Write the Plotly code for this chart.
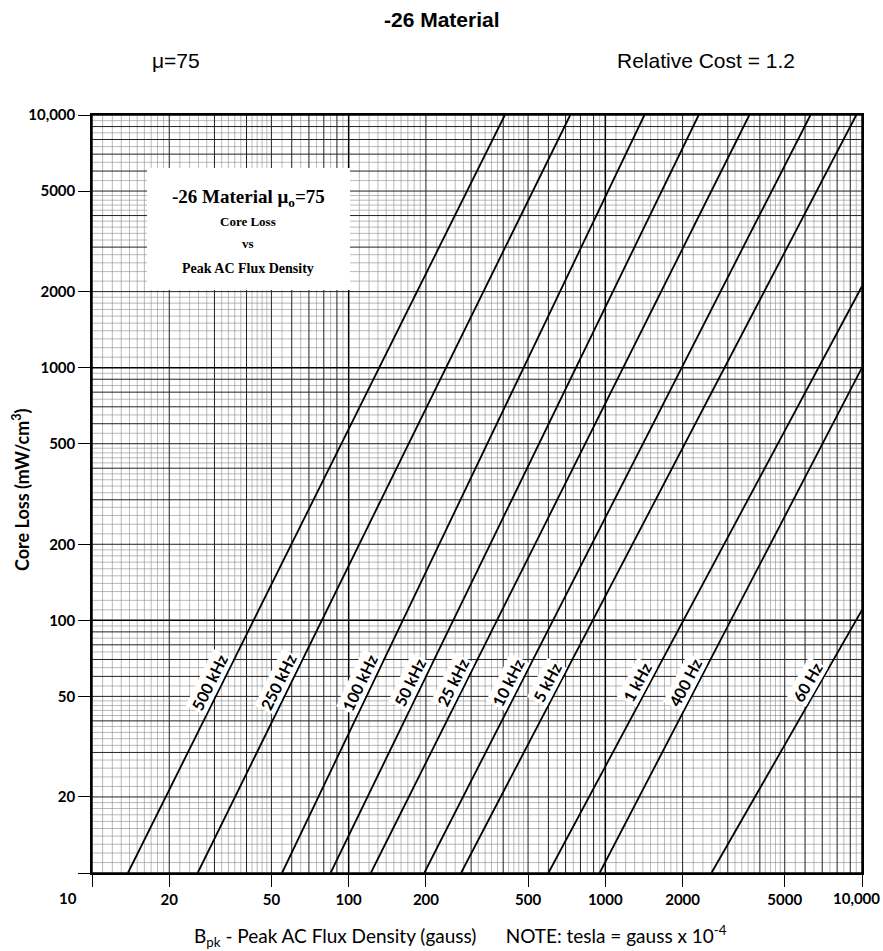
import numpy as np
import plotly.graph_objects as go

# ---------------- data ----------------
freq_labels = ["500 kHz", "250 kHz", "100 kHz", "50 kHz", "25 kHz",
               "10 kHz", "5 kHz", "1 kHz", "400 Hz", "60 Hz"]
# start point of every curve (flux density in gauss, core loss mW/cm^3)
b_start = [13.8, 25.8, 55, 85, 122, 197, 274, 600, 950, 2590]
p_start = [10, 10, 10, 10, 10, 10, 10, 10, 10, 10]
# end point of every curve
b_end = [406, 730, 1420, 2310, 3640, 6300, 9500, 10000, 10000, 10000]
p_end = [10000, 10000, 10000, 10000, 10000, 10000, 10000, 2100, 1000, 110]

x_tickvals = [20, 50, 100, 200, 500, 1000, 2000, 5000]
x_ticktext = ["20", "50", "100", "200", "500", "1000", "2000", "5000"]
y_tickvals = [20, 50, 100, 200, 500, 1000, 2000, 5000, 10000]
y_ticktext = ["20", "50", "100", "200", "500", "1000", "2000", "5000", "10,000"]
label_level = 57  # core loss level where the curve labels sit

# ---------------- layout geometry ----------------
FIG_W, FIG_H = 883, 951
ML, MR, MT, MB = 92, 21, 115, 78
PW = FIG_W - ML - MR
PH = FIG_H - MT - MB


def pp(px, py):
    return (px - ML) / PW, (FIG_H - MB - py) / PH


fig = go.Figure()

# ---------------- log graph-paper grid ----------------
decades = [10, 100, 1000]
int_mant = [2, 3, 4, 5, 6, 7, 8, 9]
fine_mant = [1.1, 1.2, 1.3, 1.4, 1.5, 1.6, 1.7, 1.8, 1.9,
             2.2, 2.4, 2.6, 2.8, 3.2, 3.4, 3.6, 3.8, 4.2, 4.4, 4.6, 4.8,
             5.5, 6.5, 7.5, 8.5, 9.5]


def grid_traces(values, color, width):
    xs, ys = [], []
    for v in values:
        xs += [v, v, None]
        ys += [10, 10000, None]
    xs2, ys2 = [], []
    for v in values:
        xs2 += [10, 10000, None]
        ys2 += [v, v, None]
    for X, Y in ((xs, ys), (xs2, ys2)):
        fig.add_trace(go.Scatter(x=X, y=Y, mode="lines",
                                 line=dict(color=color, width=width),
                                 hoverinfo="skip", showlegend=False))


grid_traces([d * m for d in decades for m in fine_mant], "#8c8c8c", 0.6)
grid_traces([d * m for d in decades for m in int_mant], "#222222", 1.0)
grid_traces([10, 100, 1000, 10000], "#000000", 1.5)

# ---------------- curves ----------------
for i, name in enumerate(freq_labels):
    fig.add_trace(go.Scatter(x=[b_start[i], b_end[i]], y=[p_start[i], p_end[i]],
                             mode="lines", name=name,
                             line=dict(color="black", width=1.8),
                             showlegend=False))

annotations = []
xdec = PW / 3.0
ydec = PH / 3.0
for i, name in enumerate(freq_labels):
    lx0, lx1 = np.log10(b_start[i]), np.log10(b_end[i])
    ly0, ly1 = np.log10(p_start[i]), np.log10(p_end[i])
    slope = (ly1 - ly0) / (lx1 - lx0)
    lyl = np.log10(label_level)
    lxl = lx0 + (lyl - ly0) / slope
    ang = np.degrees(np.arctan(slope * ydec / xdec))
    annotations.append(dict(x=lxl, y=lyl, xref="x", yref="y", text="<b>%s</b>" % name,
                            showarrow=False, textangle=-ang, xshift=-14,
                            xanchor="center", yanchor="middle",
                            bgcolor="white", borderpad=1,
                            font=dict(family="Lato", size=16, color="black")))

# ---------------- inset title box ----------------
bx0, by0 = pp(147, 290)
bx1, by1 = pp(350, 168)
fig.add_shape(type="rect", xref="paper", yref="paper", x0=bx0, x1=bx1, y0=by0, y1=by1,
              fillcolor="white", line=dict(width=0), layer="above")
box_lines = [("<b>-26 Material μ<sub>o</sub>=75</b>", 198, 19),
             ("<b>Core Loss</b>", 221, 13),
             ("<b>vs</b>", 243, 13),
             ("<b>Peak AC Flux Density</b>", 268, 14)]
for txt, ypx, sz in box_lines:
    x, y = pp(248, ypx)
    annotations.append(dict(x=x, y=y, xref="paper", yref="paper", text=txt, showarrow=False,
                            xanchor="center", yanchor="middle",
                            font=dict(family="Liberation Serif", size=sz, color="black")))


def add_text(px, py, text, size, family="Liberation Sans", xanchor="center", angle=0):
    x, y = pp(px, py)
    annotations.append(dict(x=x, y=y, xref="paper", yref="paper", text=text,
                            showarrow=False, xanchor=xanchor, yanchor="middle",
                            textangle=angle,
                            font=dict(family=family, size=size, color="black")))


# ---------------- titles and axis texts ----------------
add_text(442, 20, "<b>-26 Material</b>", 21)
add_text(150, 60, "μ=75", 21, xanchor="left")
add_text(615, 60, "Relative Cost = 1.2", 21, xanchor="left")
add_text(21, 490, "<b>Core Loss (mW/cm<sup>3</sup>)</b>", 18, family="Lato", angle=-90)
add_text(460, 936, "B<sub>pk</sub> - Peak AC Flux Density (gauss)"
                   "      NOTE: tesla = gauss x 10<sup>-4</sup>", 19, family="Lato")
add_text(68, 898, "<b>10</b>", 15, family="Lato")
add_text(882, 898, "<b>10,000</b>", 15, family="Lato", xanchor="right")

axis_common = dict(type="log", range=[1, 4], showgrid=False, zeroline=False,
                   showline=True, linecolor="black", linewidth=1.5, mirror=True,
                   ticks="outside", ticklen=12, tickwidth=1.2, tickcolor="black",
                   tickfont=dict(family="Lato", size=15, color="black", weight="bold"))

fig.update_layout(
    width=FIG_W, height=FIG_H,
    margin=dict(l=ML, r=MR, t=MT, b=MB),
    paper_bgcolor="white", plot_bgcolor="white",
    xaxis=dict(tickvals=x_tickvals, ticktext=x_ticktext,
               minor=dict(tickmode="array", tickvals=[10, 10000], ticks="outside",
                          ticklen=12, tickwidth=1.2, tickcolor="black", showgrid=False),
               **axis_common),
    yaxis=dict(tickvals=y_tickvals, ticktext=y_ticktext,
               minor=dict(tickmode="array", tickvals=[10], ticks="outside",
                          ticklen=12, tickwidth=1.2, tickcolor="black", showgrid=False),
               **axis_common),
    annotations=annotations,
    showlegend=False,
)

fig.write_html("out.html")
